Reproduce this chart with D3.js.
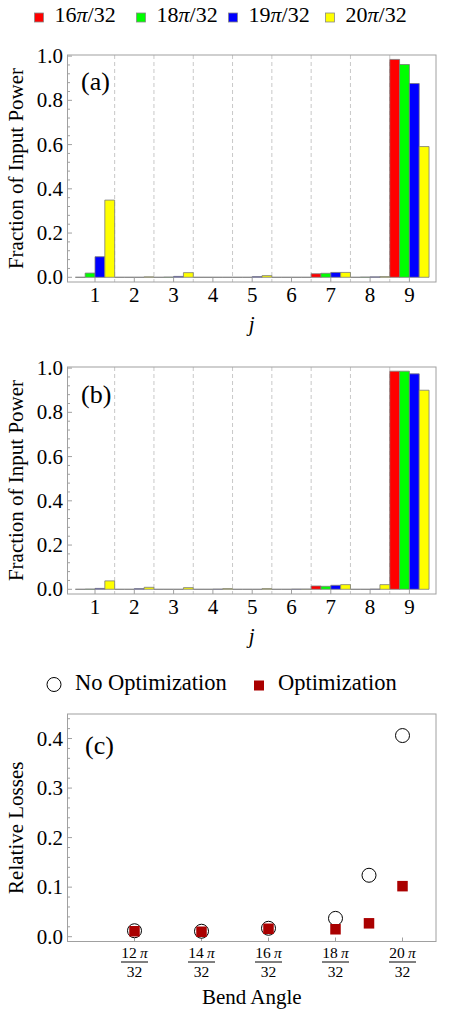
<!DOCTYPE html>
<html>
<head>
<meta charset="utf-8">
<script src="https://cdn.jsdelivr.net/npm/d3@7"></script>
<style>
  body { margin: 0; background: #fff; }
  svg { display: block; font-family: 'Liberation Serif', 'Times New Roman', serif; }
</style>
</head>
<body>
<svg id="fig" width="463" height="1015"></svg>
<script>
// ---- data ----
var categories = [1, 2, 3, 4, 5, 6, 7, 8, 9];
var seriesNames = ['16', '18', '19', '20'];
var seriesColors = ['#ff0000', '#00ff00', '#0000ff', '#ffff00'];

var panelA16 = [0, 0, 0, 0, 0, 0, 0.016, 0, 0.985];
var panelA18 = [0.019, 0, 0.001, 0, 0, 0, 0.018, 0.001, 0.962];
var panelA19 = [0.093, 0, 0.004, 0, 0.003, 0, 0.022, 0.002, 0.876];
var panelA20 = [0.349, 0.002, 0.021, 0, 0.0075, 0, 0.022, 0.003, 0.591];

var panelB16 = [0, 0, 0, 0, 0, 0, 0.015, 0, 0.986];
var panelB18 = [0.001, 0, 0, 0, 0, 0, 0.0135, 0, 0.986];
var panelB19 = [0.004, 0.003, 0, 0.001, 0, 0.001, 0.018, 0.001, 0.974];
var panelB20 = [0.038, 0.009, 0.0075, 0.003, 0.003, 0.001, 0.021, 0.021, 0.90];

var bendAngles = [12, 14, 16, 18, 19, 20];      // in units of pi/32
var lossNoOpt = [0.012, 0.011, 0.017, 0.037, 0.124, 0.406];
var lossOpt = [0.011, 0.010, 0.016, 0.015, 0.027, 0.102];
var angleTicks = [12, 14, 16, 18, 20];

var barTicks = [0, 0.2, 0.4, 0.6, 0.8, 1.0];
var lossTicks = [0, 0.1, 0.2, 0.3, 0.4];

var FRAME = '#a0a0a0';
var svg = d3.select('#fig');

// ---- top legend ----
var legX = [34.5, 136.5, 228.5, 325.5];
seriesNames.forEach(function(s, i) {
  svg.append('rect')
    .attr('x', legX[i]).attr('y', 13)
    .attr('width', 9).attr('height', 9)
    .attr('fill', seriesColors[i])
    .attr('stroke', '#888').attr('stroke-width', 0.8);
  var t = svg.append('text')
    .attr('x', legX[i] + 20).attr('y', 22)
    .attr('font-size', 22);
  t.append('tspan').text(s);
  t.append('tspan').attr('font-style', 'italic').text('π');
  t.append('tspan').text('/32');
});

// ---- bar panels ----
function barPanel(top, data, letter, letterY) {
  var left = 67.5, right = 436, bottom = top + 227;
  var g = svg.append('g');

  var y = d3.scaleLinear().domain([-0.0213, 1.005]).range([bottom, top]);
  var x = d3.scaleBand().domain(categories).range([75.35, 429.05]).padding(0);
  var xs = d3.scaleBand().domain(seriesNames).range([0, x.bandwidth()]).padding(0);

  // dashed dividers
  g.selectAll('line.div')
    .data(categories.slice(1))
    .enter().append('line')
    .attr('x1', function(d) { return x(d); })
    .attr('x2', function(d) { return x(d); })
    .attr('y1', top).attr('y2', bottom)
    .attr('stroke', '#c8c8c8').attr('stroke-width', 1)
    .attr('stroke-dasharray', '4,3');

  // bars (paths so that zero values still show as a line)
  data.forEach(function(vals, si) {
    g.selectAll('path.s' + si)
      .data(vals)
      .enter().append('path')
      .attr('d', function(v, i) {
        var x0 = x(categories[i]) + xs(seriesNames[si]);
        var w = xs.bandwidth();
        var y0 = y(0), y1 = y(v);
        return 'M' + x0 + ',' + y0 + 'H' + (x0 + w) + 'V' + y1 + 'H' + x0 + 'Z';
      })
      .attr('fill', seriesColors[si])
      .attr('stroke', '#7a7a7a')
      .attr('stroke-width', 0.8);
  });

  // frame
  g.append('rect')
    .attr('x', left).attr('y', top)
    .attr('width', right - left).attr('height', bottom - top)
    .attr('fill', 'none').attr('stroke', FRAME).attr('stroke-width', 1);

  // y ticks (inward)
  var minor = d3.range(0, 1.0001, 0.04);
  g.selectAll('line.ym')
    .data(minor)
    .enter().append('line')
    .attr('x1', left).attr('x2', function(d) {
      return left + (Math.abs(d * 5 - Math.round(d * 5)) < 1e-6 ? 4.5 : 2.5);
    })
    .attr('y1', function(d) { return y(d); })
    .attr('y2', function(d) { return y(d); })
    .attr('stroke', FRAME);

  g.selectAll('text.yl')
    .data(barTicks)
    .enter().append('text')
    .attr('x', 63).attr('y', function(d) { return y(d) + 7; })
    .attr('text-anchor', 'end').attr('font-size', 21)
    .text(function(d) { return d3.format('.1f')(d); });

  // x ticks
  g.selectAll('line.xt')
    .data(categories)
    .enter().append('line')
    .attr('x1', function(d) { return x(d) + x.bandwidth() / 2; })
    .attr('x2', function(d) { return x(d) + x.bandwidth() / 2; })
    .attr('y1', bottom).attr('y2', bottom - 4)
    .attr('stroke', FRAME);

  g.selectAll('text.xl')
    .data(categories)
    .enter().append('text')
    .attr('x', function(d) { return x(d) + x.bandwidth() / 2; })
    .attr('y', bottom + 20)
    .attr('text-anchor', 'middle').attr('font-size', 21)
    .text(function(d) { return d; });

  // axis labels
  g.append('text')
    .attr('transform', 'translate(23,' + ((top + bottom) / 2) + ') rotate(-90)')
    .attr('text-anchor', 'middle').attr('font-size', 21)
    .text('Fraction of Input Power');

  g.append('text')
    .attr('x', (left + right) / 2).attr('y', bottom + 49)
    .attr('text-anchor', 'middle').attr('font-size', 21)
    .attr('font-style', 'italic')
    .text('j');

  g.append('text')
    .attr('x', 81).attr('y', letterY)
    .attr('font-size', 26)
    .text(letter);
}

barPanel(55, [panelA16, panelA18, panelA19, panelA20], '(a)', 90);
barPanel(367, [panelB16, panelB18, panelB19, panelB20], '(b)', 403);

// ---- panel (c) ----
(function() {
  var left = 67.5, right = 436, top = 714, bottom = 941.5;
  var g = svg.append('g');

  var x = d3.scaleLinear().domain([10, 21]).range([left, right]);
  var y = d3.scaleLinear().domain([-0.0097, 0.4495]).range([bottom, top]);

  // legend
  g.append('circle')
    .attr('cx', 54).attr('cy', 684.5).attr('r', 7)
    .attr('fill', '#fff').attr('stroke', '#000').attr('stroke-width', 1);
  g.append('text')
    .attr('x', 75).attr('y', 690).attr('font-size', 22.5)
    .text('No Optimization');
  g.append('rect')
    .attr('x', 254).attr('y', 680.5).attr('width', 10).attr('height', 10)
    .attr('fill', '#aa0000');
  g.append('text')
    .attr('x', 278).attr('y', 690).attr('font-size', 22.5)
    .text('Optimization');

  // frame
  g.append('rect')
    .attr('x', left).attr('y', top)
    .attr('width', right - left).attr('height', bottom - top)
    .attr('fill', 'none').attr('stroke', FRAME).attr('stroke-width', 1);

  // y ticks
  var minor = d3.range(0, 0.441, 0.02);
  g.selectAll('line.ym')
    .data(minor)
    .enter().append('line')
    .attr('x1', left).attr('x2', function(d) {
      return left + (Math.abs(d * 10 - Math.round(d * 10)) < 1e-6 ? 4.5 : 2.5);
    })
    .attr('y1', function(d) { return y(d); })
    .attr('y2', function(d) { return y(d); })
    .attr('stroke', FRAME);

  g.selectAll('text.yl')
    .data(lossTicks)
    .enter().append('text')
    .attr('x', 63).attr('y', function(d) { return y(d) + 7; })
    .attr('text-anchor', 'end').attr('font-size', 21)
    .text(function(d) { return d3.format('.1f')(d); });

  // x ticks
  g.selectAll('line.xt')
    .data(angleTicks)
    .enter().append('line')
    .attr('x1', function(d) { return x(d); })
    .attr('x2', function(d) { return x(d); })
    .attr('y1', bottom).attr('y2', bottom - 4)
    .attr('stroke', FRAME);

  var fr = g.selectAll('g.frac')
    .data(angleTicks)
    .enter().append('g')
    .attr('transform', function(d) { return 'translate(' + x(d) + ',0)'; });
  var num = fr.append('text')
    .attr('y', 958).attr('text-anchor', 'middle').attr('font-size', 15.5);
  num.append('tspan').text(function(d) { return d + '\u2009'; });
  num.append('tspan').attr('font-style', 'italic').text('π');
  fr.append('line')
    .attr('x1', -13.5).attr('x2', 13.5)
    .attr('y1', 962).attr('y2', 962)
    .attr('stroke', '#000').attr('stroke-width', 1);
  fr.append('text')
    .attr('y', 977).attr('text-anchor', 'middle').attr('font-size', 15.5)
    .text('32');

  // points
  g.selectAll('circle.no')
    .data(bendAngles)
    .enter().append('circle')
    .attr('cx', function(d) { return x(d); })
    .attr('cy', function(d, i) { return y(lossNoOpt[i]); })
    .attr('r', 7)
    .attr('fill', '#fff').attr('stroke', '#000').attr('stroke-width', 1);

  g.selectAll('rect.op')
    .data(bendAngles)
    .enter().append('rect')
    .attr('x', function(d) { return x(d) - 5.25; })
    .attr('y', function(d, i) { return y(lossOpt[i]) - 5.25; })
    .attr('width', 10.5).attr('height', 10.5)
    .attr('fill', '#aa0000');

  // labels
  g.append('text')
    .attr('transform', 'translate(23,' + ((top + bottom) / 2) + ') rotate(-90)')
    .attr('text-anchor', 'middle').attr('font-size', 21)
    .text('Relative Losses');

  g.append('text')
    .attr('x', (left + right) / 2).attr('y', 1004)
    .attr('text-anchor', 'middle').attr('font-size', 21)
    .text('Bend Angle');

  g.append('text')
    .attr('x', 85).attr('y', 754)
    .attr('font-size', 26)
    .text('(c)');
})();
</script>
</body>
</html>
